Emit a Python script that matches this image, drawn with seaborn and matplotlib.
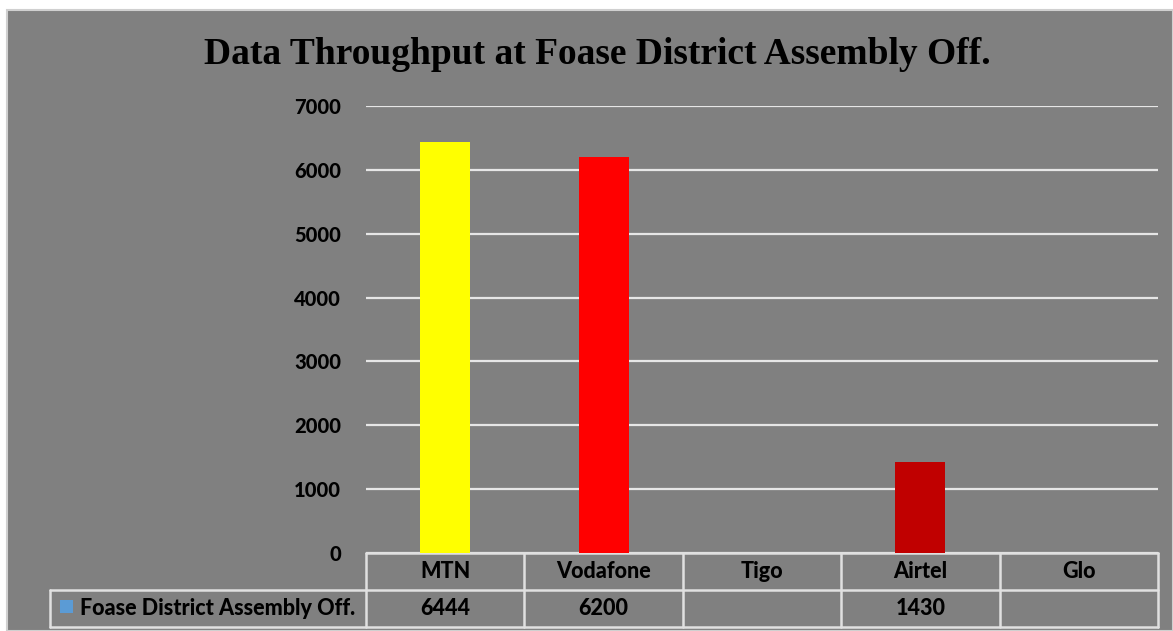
import numpy as np
import pandas as pd
import matplotlib
matplotlib.use("Agg")
import matplotlib.pyplot as plt
import seaborn as sns
from matplotlib.patches import Rectangle
from matplotlib.transforms import blended_transform_factory

categories = ["MTN", "Vodafone", "Tigo", "Airtel", "Glo"]
values = [6444, 6200, np.nan, 1430, np.nan]
bar_colors = ["#ffff00", "#ff0000", "#ff0000", "#c00000", "#c00000"]
series_name = "Foase District Assembly Off."
yticks = [0, 1000, 2000, 3000, 4000, 5000, 6000, 7000]
title = "Data Throughput at Foase District Assembly Off."

sns.set_theme(style="white")
plt.rcParams["font.family"] = ["Lato", "DejaVu Sans"]
WT = 900

W, H = 1173, 631
fig = plt.figure(figsize=(W / 100, H / 100), dpi=100, facecolor="white")
gray = "#808080"
fig.patches.append(Rectangle((7 / W, 0), 1 - 7 / W, 1 - 10 / H, transform=fig.transFigure,
                             facecolor=gray, edgecolor="#d0d0d0", lw=1.5, zorder=-10))

ax = fig.add_axes([366 / W, (H - 553) / H, 792 / W, 447 / H])
ax.set_facecolor(gray)
ax.patch.set_alpha(0)

df = pd.DataFrame({"cat": categories, "val": values})
sns.barplot(data=df, x="cat", y="val", hue="cat", palette=dict(zip(categories, bar_colors)),
            width=0.316, legend=False, ax=ax, saturation=1, zorder=3,
            edgecolor="none", linewidth=0)

ax.set_ylim(0, 7000)
ax.set_xlim(-0.5, len(categories) - 0.5)
ax.set_yticks(yticks)
ax.set_yticklabels([str(t) for t in yticks], fontsize=14.5, fontweight=WT, color="black")
ax.tick_params(axis="y", length=0, pad=18)
ax.set_xticks([])
ax.set_xlabel("")
ax.set_ylabel("")
for s in ax.spines.values():
    s.set_visible(False)
ax.yaxis.grid(True, color="#e6e6e6", lw=1.6)
ax.set_axisbelow(True)

fig.text(597 / W, 1 - 54 / H, title, ha="center", va="center", fontsize=27,
         fontweight="bold", family="Liberation Serif", color="black")

# data table
tr = blended_transform_factory(ax.transData, fig.transFigure)
lc = "#e0e0e0"
y_top = (H - 553) / H
y_mid = (H - 590) / H
y_bot = (H - 627) / H
n = len(categories)
x0_label = (50 - 366) / 792 * n - 0.5
ax.plot([-0.5, n - 0.5], [y_top, y_top], transform=tr, color=lc, lw=1.8, clip_on=False)
ax.plot([x0_label, n - 0.5], [y_mid, y_mid], transform=tr, color=lc, lw=1.8, clip_on=False)
ax.plot([x0_label, n - 0.5], [y_bot, y_bot], transform=tr, color=lc, lw=1.8, clip_on=False)
ax.plot([x0_label, x0_label], [y_mid, y_bot], transform=tr, color=lc, lw=1.8, clip_on=False)
for i in range(n + 1):
    ax.plot([i - 0.5, i - 0.5], [y_top, y_bot], transform=tr, color=lc, lw=1.8, clip_on=False)
for i, (c, v) in enumerate(zip(categories, values)):
    ax.text(i, (y_top + y_mid) / 2, c, transform=tr, ha="center", va="center",
            fontsize=15.5, fontweight=WT, color="black")
    if not np.isnan(v):
        ax.text(i, (y_mid + y_bot) / 2, f"{int(v)}", transform=tr, ha="center", va="center",
                fontsize=15.5, fontweight=WT, color="black")
fig.patches.append(Rectangle((60 / W, (H - 613) / H), 13 / W, 13 / H, transform=fig.transFigure,
                             facecolor="#5b9bd5", edgecolor="none"))
fig.text(80 / W, (y_mid + y_bot) / 2, series_name, ha="left", va="center",
         fontsize=15.5, fontweight=WT, color="black")

fig.savefig("out.png", dpi=100, facecolor="white")
